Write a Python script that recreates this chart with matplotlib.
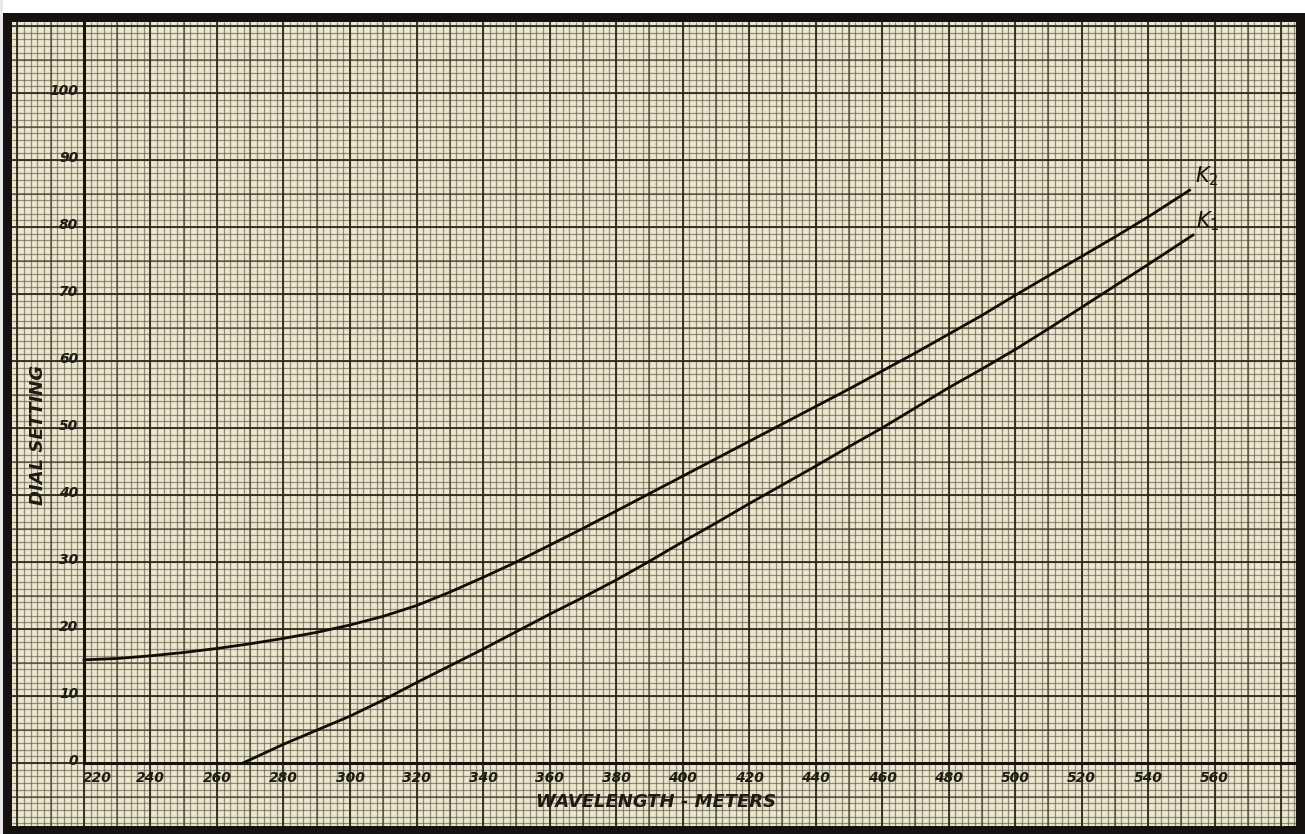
import matplotlib.pyplot as plt
import numpy as np
from matplotlib.patches import Rectangle

# Data (wavelength in meters, dial setting)
k2_wave = [220, 230, 240, 250, 260, 270, 280, 290, 300, 310, 320, 330, 340, 350, 360,
           370, 380, 390, 400, 410, 420, 430, 440, 450, 460, 470, 480, 490, 500, 510,
           520, 530, 540, 552.5]
k2_dial = [15.4, 15.6, 16.0, 16.5, 17.1, 17.8, 18.6, 19.5, 20.6, 21.9, 23.5, 25.5, 27.7,
           30.0, 32.5, 35.0, 37.6, 40.2, 42.8, 45.4, 48.0, 50.6, 53.2, 55.8, 58.5, 61.2,
           64.0, 66.8, 69.8, 72.7, 75.6, 78.5, 81.5, 85.5]

k1_wave = [267.8, 270, 280, 290, 300, 310, 320, 330, 340, 350, 360, 370, 380, 390, 400,
           410, 420, 430, 440, 450, 460, 470, 480, 490, 500, 510, 520, 530, 540, 553.5]
k1_dial = [0.0, 0.5, 2.8, 4.9, 7.0, 9.4, 12.0, 14.5, 17.0, 19.6, 22.2, 24.7, 27.3, 30.1,
           33.0, 35.8, 38.7, 41.5, 44.3, 47.2, 50.0, 53.0, 56.0, 58.8, 61.7, 64.8, 68.0,
           71.2, 74.4, 78.8]

x_ticks = list(range(220, 561, 20))
y_ticks = list(range(0, 101, 10))

W, H = 1305, 834
fig = plt.figure(figsize=(W / 100, H / 100), dpi=100, facecolor='#141210')

# white margin of the scan above and left of the dark border
fig.patches.append(Rectangle((0, 1 - 13 / H), 1, 13 / H, transform=fig.transFigure,
                             facecolor='white', edgecolor='none', zorder=-5))
fig.patches.append(Rectangle((0, 0), 3 / W, 1, transform=fig.transFigure,
                             facecolor='#e8e8e8', edgecolor='none', zorder=-5))

ax = fig.add_axes([12 / W, 8 / H, (1296 - 12) / W, (826 - 22) / H])
ax.set_facecolor('#ece8d0')
x0, x1 = 198.35, 584.5
y0, y1 = -9.4, 110.6
ax.set_xlim(x0, x1)
ax.set_ylim(y0, y1)
for s in ax.spines.values():
    s.set_visible(False)
ax.set_xticks([])
ax.set_yticks([])

# graph paper: fine, medium and heavy rulings
gx = np.arange(200, 586, 2)
gy = np.arange(-9, 111, 1)
ax.vlines(gx, y0, y1, color='#55513a', lw=0.9, alpha=0.6, zorder=1)
ax.hlines(gy, x0, x1, color='#55513a', lw=0.9, alpha=0.6, zorder=1)
ax.vlines(np.arange(200, 586, 10), y0, y1, color='#3c3825', lw=1.1, alpha=0.75, zorder=1)
ax.hlines(np.arange(-5, 111, 5), x0, x1, color='#3c3825', lw=1.1, alpha=0.75, zorder=1)
ax.vlines(np.arange(200, 586, 20), y0, y1, color='#2a271a', lw=1.35, alpha=0.8, zorder=1)
ax.hlines(np.arange(0, 111, 10), x0, x1, color='#2a271a', lw=1.35, alpha=0.8, zorder=1)

# axis lines
ax.plot([220, 220], [0, y1], color='#15130c', lw=2.2, zorder=3)
ax.plot([220, x1], [0, 0], color='#15130c', lw=2.2, zorder=3)

# curves
ax.plot(k2_wave, k2_dial, color='#100e08', lw=2.0, zorder=4)
ax.plot(k1_wave, k1_dial, color='#100e08', lw=2.0, zorder=4)
ax.text(k2_wave[-1] + 1.5, k2_dial[-1] + 0.3, 'K$_2$', fontsize=15, style='italic',
        ha='left', va='bottom', color='#15130c', zorder=5)
ax.text(k1_wave[-1] + 1.0, k1_dial[-1] + 0.3, 'K$_1$', fontsize=15, style='italic',
        ha='left', va='bottom', color='#15130c', zorder=5)

# tick labels
for xv in x_ticks:
    xp = xv + 4 if xv == 220 else xv
    ax.text(xp, -2.3, str(xv), fontsize=10, style='italic', weight='bold', ha='center',
            va='center', color='#1d1b12', zorder=5)
for yv in y_ticks:
    ax.text(218.3, yv + 0.3, str(yv), fontsize=10, style='italic', weight='bold',
            ha='right', va='center', color='#1d1b12', zorder=5)

ax.text(392, -5.8, 'WAVELENGTH - METERS', fontsize=13, style='italic', weight='bold',
        ha='center', va='center', color='#1d1b12', zorder=5)
ax.text(206.3, 49, 'DIAL SETTING', fontsize=13, style='italic', weight='bold',
        rotation=90, ha='center', va='center', color='#1d1b12', zorder=5)

fig.savefig('out.png', dpi=100, facecolor=fig.get_facecolor())
